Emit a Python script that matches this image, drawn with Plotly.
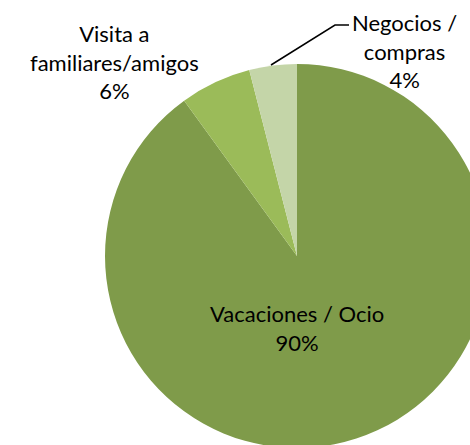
import plotly.graph_objects as go

# data
motivos = ['Vacaciones / Ocio', 'Visita a<br>familiares/amigos', 'Negocios /<br>compras']
porcentajes = [90, 6, 4]
colores = ['#7F9B4A', '#9BBB59', '#C4D5A8']

# the figure is a bit larger than the window: the pie runs off the right/bottom edge
W, H = 490, 449

fig = go.Figure(go.Pie(
    labels=motivos,
    values=porcentajes,
    sort=False,
    direction='clockwise',
    rotation=0,
    marker=dict(colors=colores, line=dict(width=0)),
    textinfo='none',
    hoverinfo='label+percent',
    domain=dict(x=[105 / W, 489 / W], y=[1 - 448 / H, 1 - 64 / H]),
))

# label positions (px) for each slice
pos_etiquetas = [(297, 328), (114, 62), (404, 51)]
for motivo, pct, (px, py) in zip(motivos, porcentajes, pos_etiquetas):
    fig.add_annotation(
        x=px / W, y=1 - py / H, xref='paper', yref='paper',
        text=f'{motivo}<br>{pct}%', showarrow=False,
        xanchor='center', yanchor='middle',
        font=dict(family='Lato', size=22, color='black'),
    )

# leader line for the small slice
fig.add_shape(
    type='path', xref='paper', yref='paper',
    path=f'M {271 / W} {1 - 65 / H} L {335 / W} {1 - 25 / H} L {349 / W} {1 - 25 / H}',
    line=dict(color='black', width=1.5),
)

fig.update_layout(
    width=W, height=H,
    margin=dict(l=0, r=0, t=0, b=0),
    showlegend=False,
    paper_bgcolor='white',
)

# no page margin / scrollbars so the clipped pie sits flush with the window edge
fig.write_html('out.html', config={'displayModeBar': False},
               post_script="document.body.style.margin='0';document.body.style.overflow='hidden';")
